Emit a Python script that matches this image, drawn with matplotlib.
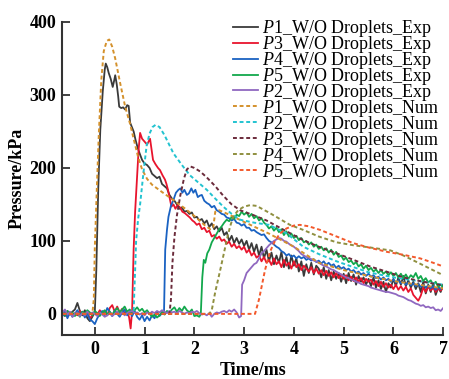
import matplotlib
matplotlib.use("Agg")
import matplotlib.pyplot as plt

plt.rcParams['font.family'] = ['Liberation Serif', 'DejaVu Serif']
plt.rcParams['mathtext.fontset'] = 'custom'
plt.rcParams['mathtext.it'] = 'Liberation Serif:italic'
plt.rcParams['mathtext.rm'] = 'Liberation Serif'

# ---------------- data (time in ms, pressure in kPa) ----------------
p1_exp = [(-0.65,2),(-0.6,-3),(-0.55,4),(-0.5,-1),(-0.45,3),(-0.4,6),(-0.35,15),(-0.3,4),(-0.25,-2),(-0.2,5),
          (-0.15,-6),(-0.1,-10),(-0.05,-4),(0.0,2),(0.03,60),(0.07,174),(0.11,252),(0.16,305),(0.2,335),(0.22,343),
          (0.25,338),(0.28,330),(0.32,322),(0.36,311),(0.39,320),(0.41,327),(0.44,315),(0.47,298),(0.49,284),(0.53,282),
          (0.57,283),(0.61,280),(0.65,286),(0.68,285),(0.71,262),(0.75,255),(0.78,250),(0.82,238),(0.86,228),(0.9,220),
          (0.95,211),(1.0,206),(1.05,204),(1.1,200),(1.15,192),(1.2,189),(1.25,186),(1.3,188),(1.35,178),(1.4,175),
          (1.45,172),(1.5,163),(1.55,158),(1.6,155),(1.65,150),(1.7,144),(1.75,146),(1.8,140),(1.85,141),(1.9,137),
          (1.95,139),(2.0,132),(2.05,133),(2.1,128),(2.15,130),(2.2,124),(2.25,128),(2.3,119),(2.35,124),(2.4,116),
          (2.45,120),(2.5,113),(2.55,118),(2.6,108),(2.65,112),(2.7,100),(2.75,107),(2.8,97),(2.85,104),(2.9,96),
          (2.95,102),(3.0,93),(3.05,100),(3.1,88),(3.15,97),(3.2,85),(3.25,95),(3.3,80),(3.35,92),(3.4,76),
          (3.45,88),(3.5,72),(3.55,84),(3.6,68),(3.65,80),(3.7,70),(3.75,85),(3.8,64),(3.85,78),(3.9,62),
          (3.95,80),(4.0,66),(4.05,76),(4.1,58),(4.15,72),(4.2,52),(4.25,68),(4.3,56),(4.35,70),(4.4,54),
          (4.45,66),(4.5,62),(4.55,50),(4.6,64),(4.65,48),(4.7,60),(4.75,46),(4.8,58),(4.85,48),(4.9,56),
          (4.95,44),(5.0,55),(5.05,42),(5.1,56),(5.15,45),(5.2,54),(5.25,40),(5.3,52),(5.35,44),(5.4,50),
          (5.45,40),(5.5,48),(5.55,38),(5.6,50),(5.65,36),(5.7,46),(5.75,34),(5.8,44),(5.85,30),(5.9,42),
          (5.95,36),(6.0,48),(6.05,38),(6.1,50),(6.15,40),(6.2,52),(6.25,38),(6.3,46),(6.35,36),(6.4,44),
          (6.45,34),(6.5,42),(6.55,30),(6.6,44),(6.65,28),(6.7,40),(6.75,30),(6.8,42),(6.85,26),(6.9,36),
          (6.95,30),(7.0,40)]

p3_exp = [(-0.65,-2),(-0.6,3),(-0.55,-4),(-0.5,2),(-0.45,-3),(-0.4,1),(-0.35,-2),(-0.3,4),(-0.25,0),(-0.2,-3),
          (-0.15,2),(-0.1,-6),(-0.05,-2),(0.0,3),(0.05,-1),(0.1,5),(0.15,0),(0.2,4),(0.25,-2),(0.3,8),
          (0.35,12),(0.4,3),(0.45,10),(0.5,2),(0.55,7),(0.6,1),(0.65,4),(0.69,-5),(0.72,-20),(0.75,5),
          (0.78,88),(0.81,140),(0.845,183),(0.88,225),(0.91,248),(0.95,240),(1.0,236),(1.05,232),(1.11,240),(1.14,225),
          (1.17,211),(1.22,205),(1.27,200),(1.31,197),(1.36,190),(1.41,184),(1.44,178),(1.47,170),(1.5,160),(1.54,147),
          (1.58,150),(1.62,144),(1.66,149),(1.71,146),(1.76,140),(1.81,138),(1.86,135),(1.91,132),(1.96,128),(2.0,126),
          (2.05,122),(2.1,124),(2.15,116),(2.2,118),(2.25,112),(2.3,114),(2.35,106),(2.4,108),(2.45,103),(2.5,106),
          (2.55,100),(2.6,102),(2.65,96),(2.7,99),(2.75,92),(2.8,96),(2.85,90),(2.9,93),(2.95,88),(3.0,92),
          (3.05,84),(3.1,88),(3.15,80),(3.2,84),(3.25,77),(3.3,80),(3.35,72),(3.4,78),(3.45,70),(3.5,74),
          (3.55,67),(3.6,76),(3.65,68),(3.7,72),(3.75,64),(3.8,74),(3.85,66),(3.9,70),(3.95,62),(4.0,72),
          (4.05,64),(4.1,68),(4.15,60),(4.2,66),(4.25,62),(4.3,58),(4.35,64),(4.4,56),(4.45,62),(4.5,55),
          (4.55,60),(4.6,53),(4.65,59),(4.7,52),(4.75,57),(4.8,50),(4.85,56),(4.9,49),(4.95,54),(5.0,48),
          (5.05,53),(5.1,46),(5.15,51),(5.2,45),(5.25,50),(5.3,44),(5.35,49),(5.4,42),(5.45,48),(5.5,44),
          (5.55,47),(5.6,40),(5.65,45),(5.7,38),(5.75,44),(5.8,37),(5.85,42),(5.9,36),(5.95,40),(6.0,34),
          (6.05,40),(6.1,33),(6.15,38),(6.2,32),(6.25,37),(6.3,30),(6.35,35),(6.4,26),(6.45,22),(6.5,18),
          (6.55,25),(6.6,36),(6.65,30),(6.7,38),(6.75,32),(6.8,36),(6.85,30),(6.9,35),(6.95,32),(7.0,36)]

p4_exp = [(-0.65,-3),(-0.6,4),(-0.55,-6),(-0.5,2),(-0.45,-4),(-0.4,0),(-0.35,5),(-0.3,-2),(-0.25,3),(-0.2,-5),
          (-0.15,1),(-0.1,-8),(-0.05,-10),(0.0,-14),(0.05,-6),(0.1,0),(0.15,4),(0.2,-2),(0.25,8),(0.3,3),
          (0.35,-3),(0.4,5),(0.45,0),(0.5,-4),(0.55,2),(0.6,6),(0.65,-2),(0.7,3),(0.75,-3),(0.8,4),
          (0.85,-4),(0.9,-8),(0.95,-2),(1.0,-10),(1.05,-4),(1.1,-9),(1.15,-2),(1.2,-6),(1.25,2),(1.3,-3),
          (1.35,1),(1.39,0),(1.415,88),(1.45,115),(1.48,133),(1.53,148),(1.58,156),(1.63,166),(1.68,170),(1.72,172),
          (1.76,166),(1.8,170),(1.85,163),(1.89,165),(1.94,172),(1.98,166),(2.02,170),(2.07,160),(2.11,162),(2.15,163),
          (2.2,155),(2.25,152),(2.3,150),(2.35,146),(2.4,148),(2.45,142),(2.5,140),(2.55,137),(2.6,136),(2.65,132),
          (2.7,131),(2.75,128),(2.8,130),(2.85,125),(2.9,124),(2.95,121),(3.0,123),(3.05,118),(3.1,118),(3.15,114),
          (3.2,115),(3.25,112),(3.3,110),(3.35,108),(3.4,109),(3.45,104),(3.5,100),(3.55,98),(3.6,95),(3.65,92),
          (3.7,90),(3.75,86),(3.8,84),(3.85,80),(3.9,82),(3.95,78),(4.0,80),(4.05,76),(4.1,79),(4.15,76),
          (4.2,78),(4.25,74),(4.3,76),(4.35,73),(4.4,75),(4.45,71),(4.5,73),(4.55,69),(4.6,72),(4.65,67),
          (4.7,70),(4.75,66),(4.8,68),(4.85,63),(4.9,66),(4.95,62),(5.0,64),(5.05,60),(5.1,62),(5.15,58),
          (5.2,60),(5.25,56),(5.3,58),(5.35,54),(5.4,56),(5.45,52),(5.5,55),(5.55,51),(5.6,53),(5.65,49),
          (5.7,51),(5.75,47),(5.8,50),(5.85,46),(5.9,48),(5.95,44),(6.0,47),(6.05,43),(6.1,46),(6.15,42),
          (6.2,44),(6.25,40),(6.3,43),(6.35,39),(6.4,42),(6.45,38),(6.5,41),(6.55,37),(6.6,40),(6.65,36),
          (6.7,39),(6.75,35),(6.8,38),(6.85,33),(6.9,37),(6.95,34),(7.0,38)]

p5_exp = [(-0.65,3),(-0.6,-2),(-0.55,4),(-0.5,0),(-0.45,2),(-0.4,-3),(-0.35,1),(-0.3,-4),(-0.25,3),(-0.2,0),
          (-0.15,5),(-0.1,2),(-0.05,-2),(0.0,4),(0.05,1),(0.1,-3),(0.15,2),(0.2,5),(0.25,-1),(0.3,3),
          (0.35,-2),(0.4,4),(0.45,8),(0.5,2),(0.55,6),(0.6,10),(0.65,3),(0.7,6),(0.75,2),(0.8,5),
          (0.85,9),(0.9,4),(0.95,7),(1.0,2),(1.05,5),(1.1,0),(1.15,-4),(1.2,-1),(1.25,-5),(1.3,-2),
          (1.35,3),(1.4,-1),(1.45,4),(1.5,2),(1.55,6),(1.6,9),(1.65,3),(1.7,8),(1.75,4),(1.8,10),
          (1.85,5),(1.9,2),(1.95,6),(2.0,-3),(2.05,-2),(2.1,-4),(2.13,0),(2.16,50),(2.19,74),(2.22,70),
          (2.26,83),(2.3,88),(2.35,98),(2.4,104),(2.45,110),(2.5,116),(2.55,120),(2.6,125),(2.65,129),(2.7,127),
          (2.75,133),(2.8,130),(2.85,136),(2.9,134),(2.95,140),(3.0,136),(3.05,139),(3.1,133),(3.15,137),(3.2,131),
          (3.25,134),(3.3,128),(3.35,131),(3.4,125),(3.45,122),(3.5,117),(3.55,120),(3.6,114),(3.65,118),(3.7,112),
          (3.75,116),(3.8,108),(3.85,113),(3.9,106),(3.95,110),(4.0,104),(4.05,107),(4.1,101),(4.15,104),(4.2,98),
          (4.25,100),(4.3,95),(4.35,98),(4.4,92),(4.45,95),(4.5,89),(4.55,92),(4.6,87),(4.65,90),(4.7,84),
          (4.75,88),(4.8,81),(4.85,85),(4.9,78),(4.95,80),(5.0,74),(5.05,77),(5.1,71),(5.15,73),(5.2,68),
          (5.25,71),(5.3,65),(5.35,68),(5.4,62),(5.45,66),(5.5,60),(5.55,63),(5.6,58),(5.65,61),(5.7,56),
          (5.75,60),(5.8,55),(5.85,58),(5.9,53),(5.95,57),(6.0,52),(6.05,56),(6.1,50),(6.15,55),(6.2,49),
          (6.25,54),(6.3,48),(6.35,53),(6.4,50),(6.45,56),(6.5,48),(6.55,52),(6.6,45),(6.65,49),(6.7,43),
          (6.75,46),(6.8,40),(6.85,44),(6.9,37),(6.95,40),(7.0,37)]

p2_exp = [(-0.65,2),(-0.6,6),(-0.55,-1),(-0.5,3),(-0.45,-4),(-0.4,0),(-0.35,2),(-0.3,-3),(-0.25,1),(-0.2,-2),
          (-0.15,3),(-0.1,-1),(-0.05,2),(0.0,0),(0.05,-3),(0.1,2),(0.15,-1),(0.2,-4),(0.25,-2),(0.3,1),
          (0.35,-3),(0.4,0),(0.45,3),(0.5,-1),(0.55,2),(0.6,-2),(0.65,1),(0.7,3),(0.75,4),(0.8,1),
          (0.85,2),(0.9,-1),(0.95,1),(1.0,-2),(1.05,2),(1.1,0),(1.15,3),(1.2,1),(1.25,4),(1.3,2),
          (1.35,5),(1.4,3),(1.45,1),(1.5,4),(1.55,2),(1.6,3),(1.65,1),(1.7,4),(1.75,2),(1.8,0),
          (1.85,2),(1.9,1),(1.95,3),(2.0,2),(2.05,4),(2.1,1),(2.15,-1),(2.2,0),(2.25,-2),(2.3,1),
          (2.35,-4),(2.4,0),(2.45,2),(2.5,1),(2.55,3),(2.6,4),(2.65,2),(2.7,5),(2.75,3),(2.8,6),
          (2.85,2),(2.9,-5),(2.94,-3),(2.96,40),(3.0,46),(3.05,56),(3.1,60),(3.15,64),(3.2,68),(3.25,70),
          (3.3,76),(3.35,83),(3.4,86),(3.45,90),(3.5,94),(3.55,97),(3.6,100),(3.65,102),(3.7,104),(3.75,103),
          (3.8,100),(3.85,99),(3.9,96),(3.95,94),(4.0,92),(4.05,89),(4.1,86),(4.15,82),(4.2,80),(4.25,78),
          (4.3,77),(4.35,75),(4.4,73),(4.45,72),(4.5,70),(4.55,68),(4.6,66),(4.65,65),(4.7,63),(4.75,61),
          (4.8,60),(4.85,58),(4.9,56),(4.95,54),(5.0,52),(5.05,50),(5.1,49),(5.15,47),(5.2,46),(5.25,44),
          (5.3,43),(5.35,41),(5.4,40),(5.45,39),(5.5,38),(5.55,36),(5.6,35),(5.65,34),(5.7,33),(5.75,32),
          (5.8,31),(5.85,30),(5.9,30),(5.95,29),(6.0,28),(6.05,27),(6.1,25),(6.15,24),(6.2,23),(6.25,21),
          (6.3,19),(6.35,18),(6.4,16),(6.45,14),(6.5,13),(6.55,11),(6.6,12),(6.65,9),(6.7,10),(6.75,8),
          (6.8,9),(6.85,5),(6.9,6),(6.95,4),(7.0,8)]

p1_num = [(-0.65,0),(-0.05,0),(-0.02,20),(0.0,90),(0.04,170),(0.08,245),(0.13,320),(0.18,360),(0.24,374),(0.29,376),
          (0.35,366),(0.41,350),(0.51,316),(0.61,284),(0.71,260),(0.78,240),(0.87,215),(0.95,198),(1.05,185),(1.15,177),
          (1.35,167),(1.62,154),(1.8,145),(2.02,133),(2.2,122),(2.32,116),(2.38,118),(2.42,140),(2.5,142),(2.7,136),
          (3.0,126),(3.5,110),(4.0,92),(4.5,70),(5.0,60),(5.5,52),(6.0,45),(6.5,40),(7.0,35)]

p2_num = [(-0.65,0),(0.74,0),(0.78,5),(0.81,60),(0.83,100),(0.87,130),(0.91,150),(0.98,195),(1.04,230),(1.1,247),
          (1.16,256),(1.22,259),(1.3,256),(1.4,245),(1.58,220),(1.75,204),(1.91,190),(2.08,180),(2.25,170),(2.42,158),
          (2.58,147),(2.75,137),(2.92,129),(3.2,125),(3.5,122),(3.86,110),(4.19,92),(4.5,82),(4.86,72),(5.2,64),
          (5.5,57),(6.0,50),(6.5,45),(7.0,40)]

p3_num = [(-0.65,0),(1.5,0),(1.53,20),(1.56,70),(1.6,105),(1.65,135),(1.72,163),(1.79,185),(1.85,198),(1.92,202),
          (2.0,200),(2.12,195),(2.25,187),(2.42,175),(2.58,162),(2.75,150),(2.92,142),(3.2,135),(3.45,128),(3.8,115),
          (4.19,101),(4.5,92),(4.86,83),(5.2,74),(5.53,65),(5.9,57),(6.2,50),(6.6,44),(7.0,39)]

p4_num = [(-0.65,0),(2.3,0),(2.35,5),(2.42,30),(2.52,60),(2.6,85),(2.65,101),(2.72,120),(2.78,133),(2.88,142),
          (3.0,147),(3.12,149),(3.25,148),(3.52,138),(3.92,122),(4.19,115),(4.5,106),(4.86,98),(5.2,94),(5.53,91),
          (5.94,87),(6.2,80),(6.5,70),(7.0,53)]

p5_num = [(-0.65,0),(3.22,0),(3.3,20),(3.42,60),(3.52,85),(3.62,100),(3.72,110),(3.85,117),(4.0,121),(4.12,122),
          (4.3,120),(4.53,115),(4.86,106),(5.19,97),(5.5,91),(5.87,85),(6.2,81),(6.54,76),(6.8,70),(7.0,65)]

exp_series = [
    (p1_exp, r"$\mathit{P}$1_W/O Droplets_Exp", "#3a3a3a"),
    (p3_exp, r"$\mathit{P}$3_W/O Droplets_Exp", "#e8142d"),
    (p4_exp, r"$\mathit{P}$4_W/O Droplets_Exp", "#1a62c2"),
    (p5_exp, r"$\mathit{P}$5_W/O Droplets_Exp", "#12a84c"),
    (p2_exp, r"$\mathit{P}$2_W/O Droplets_Exp", "#9068c0"),
]
num_series = [
    (p1_num, r"$\mathit{P}$1_W/O Droplets_Num", "#d4912c"),
    (p2_num, r"$\mathit{P}$2_W/O Droplets_Num", "#22c3d0"),
    (p3_num, r"$\mathit{P}$3_W/O Droplets_Num", "#6b2b3b"),
    (p4_num, r"$\mathit{P}$4_W/O Droplets_Num", "#8f8f3f"),
    (p5_num, r"$\mathit{P}$5_W/O Droplets_Num", "#f3592c"),
]

x_ticks = [0, 1, 2, 3, 4, 5, 6, 7]
y_ticks = [0, 100, 200, 300, 400]

# ---------------- figure ----------------
fig = plt.figure(figsize=(4.49, 3.79), dpi=100)
ax = fig.add_axes([0.138, 0.116, 0.849, 0.826])

for data, label, color in exp_series:
    t = [d[0] for d in data]
    p = [d[1] for d in data]
    ax.plot(t, p, color=color, lw=1.3, label=label)
for data, label, color in num_series:
    t = [d[0] for d in data]
    p = [d[1] for d in data]
    ax.plot(t, p, color=color, lw=1.4, ls=(0, (2, 1.4)), label=label)

ax.set_xlim(-0.66, 7.0)
ax.set_ylim(-29, 400)
ax.set_xticks(x_ticks)
ax.set_yticks(y_ticks)
ax.spines['top'].set_visible(False)
ax.spines['right'].set_visible(False)
for s in ['left', 'bottom']:
    ax.spines[s].set_linewidth(1.5)
    ax.spines[s].set_color('#333333')
ax.tick_params(direction='in', length=6, width=1.3, color='#333333', labelsize=13, pad=4)
for lbl in ax.get_xticklabels() + ax.get_yticklabels():
    lbl.set_fontweight('bold')
ax.set_xlabel("Time/ms", fontsize=13, fontweight='bold', labelpad=3)
ax.set_ylabel("Pressure/kPa", fontsize=13, fontweight='bold', labelpad=3)

leg = ax.legend(loc='upper right', bbox_to_anchor=(1.005, 1.03), frameon=False, fontsize=13,
                labelspacing=-0.28, handlelength=1.4, handletextpad=0.25, borderaxespad=0.2,
                borderpad=0.1)

fig.savefig("out.png", dpi=100)
